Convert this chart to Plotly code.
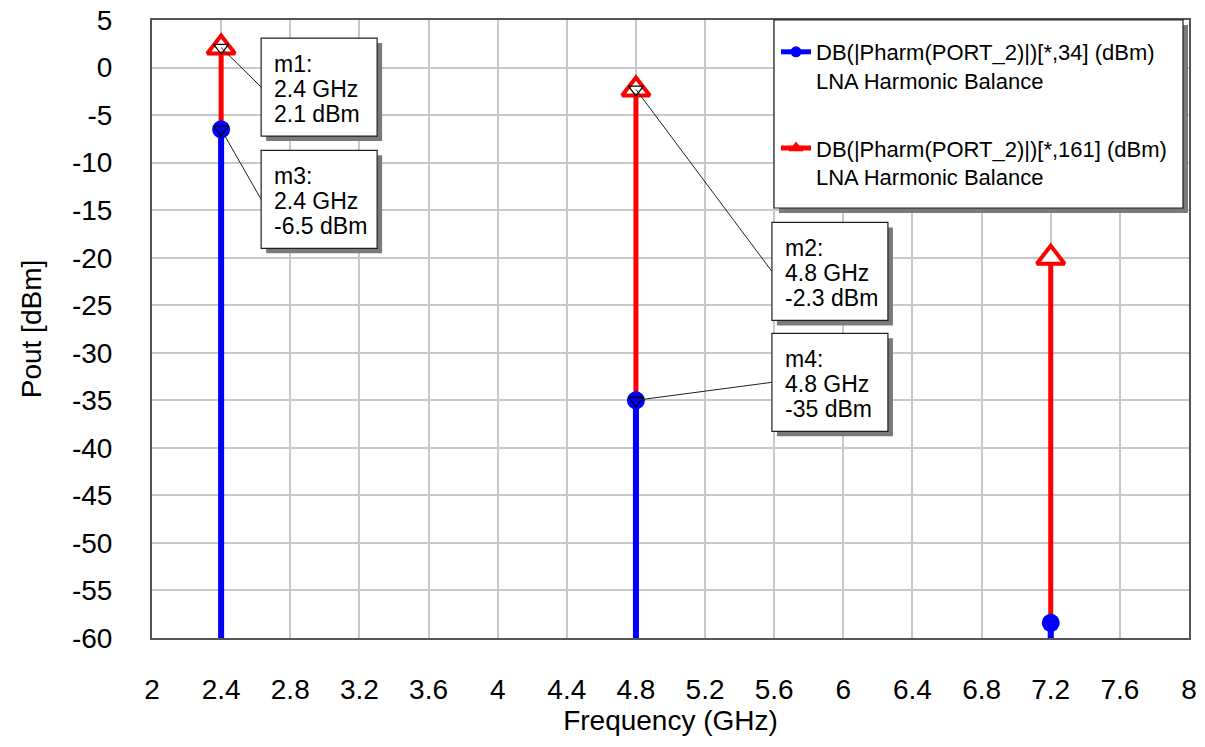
import plotly.graph_objects as go

# ---- data -------------------------------------------------------------
freq_ghz = [2.4, 4.8, 7.2]                 # harmonic frequencies (GHz)
pout_34 = [-6.5, -35.0, -58.4]             # DB(|Pharm(PORT_2)|)[*,34]  (dBm)
pout_161 = [2.1, -2.3, -20.0]              # DB(|Pharm(PORT_2)|)[*,161] (dBm)

x_ticks = [2, 2.4, 2.8, 3.2, 3.6, 4, 4.4, 4.8, 5.2, 5.6, 6, 6.4, 6.8, 7.2, 7.6, 8]
x_tick_labels = ["2", "2.4", "2.8", "3.2", "3.6", "4", "4.4", "4.8", "5.2",
                 "5.6", "6", "6.4", "6.8", "7.2", "7.6", "8"]
y_ticks = [5, 0, -5, -10, -15, -20, -25, -30, -35, -40, -45, -50, -55, -60]
y_tick_labels = ["5", "0", "-5", "-10", "-15", "-20", "-25", "-30", "-35",
                 "-40", "-45", "-50", "-55", "-60"]

name_34 = "DB(|Pharm(PORT_2)|)[*,34] (dBm)<br>LNA Harmonic Balance"
name_161 = "DB(|Pharm(PORT_2)|)[*,161] (dBm)<br>LNA Harmonic Balance"

# readout markers: label, trace, point index
marker_labels = ["m1", "m2", "m3", "m4"]
marker_trace = ["161", "161", "34", "34"]
marker_point = [0, 1, 0, 1]

# ---- styling / layout -------------------------------------------------
FONT = "Liberation Sans, Arial, sans-serif"
BLUE = "#0000ff"
RED = "#ff0000"
GRID = "#c8c8c8"
FRAME = "#555555"
SHADOW = "#7a7a7a"

W, H = 1205, 747
ML, MR, MT, MB = 152, 16, 20, 109
X_RANGE = [2, 8]
Y_RANGE = [-60, 5]

# readout box: offset of its top-left corner from the marked point (px, y up)
box_offset = {"m1": (40, 9.5), "m2": (136, -133), "m3": (40, -21), "m4": (136, 67)}
BOX_W, BOX_H, SHADOW_OFF = 116, 98, 5


def px_to_paper(px, py):
    return (px - ML) / (W - ML - MR), (H - MB - py) / (H - MT - MB)


def stems(xs, ys, base):
    sx, sy = [], []
    for x, y in zip(xs, ys):
        sx += [x, x, None]
        sy += [base, y, None]
    return sx, sy


series = {"161": pout_161, "34": pout_34}

fig = go.Figure()

sx, sy = stems(freq_ghz, pout_161, Y_RANGE[0])
fig.add_trace(go.Scatter(x=sx, y=sy, mode="lines", line=dict(color=RED, width=5),
                         showlegend=False, hoverinfo="skip"))
sx, sy = stems(freq_ghz, pout_34, Y_RANGE[0])
fig.add_trace(go.Scatter(x=sx, y=sy, mode="lines", line=dict(color=BLUE, width=6),
                         showlegend=False, hoverinfo="skip"))

fig.add_trace(go.Scatter(x=freq_ghz, y=pout_161, mode="markers", showlegend=False,
                         marker=dict(symbol="triangle-up", size=24, color="white",
                                     line=dict(color=RED, width=4))))
fig.add_trace(go.Scatter(x=freq_ghz, y=pout_34, mode="markers", showlegend=False,
                         marker=dict(symbol="circle", size=18, color=BLUE,
                                     line=dict(width=0))))

# small marker glyphs on the marked points
mx = [freq_ghz[i] for i in marker_point]
my = [series[t][i] for t, i in zip(marker_trace, marker_point)]
fig.add_trace(go.Scatter(x=mx, y=my, mode="markers", showlegend=False, hoverinfo="skip",
                         marker=dict(symbol="triangle-down-open", size=13, color="black",
                                     line=dict(color="black", width=1.2))))

# legend entries
fig.add_trace(go.Scatter(x=[None], y=[None], mode="lines+markers", name=name_34,
                         legendgroup="g34",
                         line=dict(color=BLUE, width=5),
                         marker=dict(symbol="circle", size=11, color=BLUE)))
fig.add_trace(go.Scatter(x=[None], y=[None], mode="lines+markers", name=name_161,
                         legendgroup="g161",
                         line=dict(color=RED, width=5),
                         marker=dict(symbol="triangle-up", size=13, color=RED)))

shapes = []
annotations = []

# readout boxes with shadow, leader line and text
for lab, t, i in zip(marker_labels, marker_trace, marker_point):
    fx = freq_ghz[i]
    val = series[t][i]
    dx, dy = box_offset[lab]
    common = dict(xref="x", yref="y", xsizemode="pixel", ysizemode="pixel",
                  xanchor=fx, yanchor=val, layer="above")
    shapes.append(dict(type="rect", x0=dx + SHADOW_OFF, x1=dx + BOX_W + SHADOW_OFF,
                       y0=dy - BOX_H - SHADOW_OFF, y1=dy - SHADOW_OFF,
                       fillcolor=SHADOW, line=dict(width=0), **common))
    shapes.append(dict(type="rect", x0=dx, x1=dx + BOX_W, y0=dy - BOX_H, y1=dy,
                       fillcolor="white", line=dict(color="#202020", width=1.2), **common))
    shapes.append(dict(type="line", x0=0, y0=0, x1=dx, y1=dy - BOX_H / 2,
                       line=dict(color="#202020", width=1), **common))
    lines = [f"{lab}:", f"{fx:g} GHz", f"{val:g} dBm"]
    for k, txt in enumerate(lines):
        annotations.append(dict(x=fx, y=val, xref="x", yref="y", text=txt,
                                showarrow=False, xanchor="left", yanchor="middle",
                                xshift=dx + 11, yshift=dy - 26 - 25 * k,
                                font=dict(family=FONT, size=23, color="black")))

# legend frame with shadow
lx0, ly0 = px_to_paper(774 + SHADOW_OFF, 208 + SHADOW_OFF)
lx1, ly1 = px_to_paper(1183 + SHADOW_OFF, 20 + SHADOW_OFF)
shapes.append(dict(type="rect", xref="paper", yref="paper", x0=lx0, x1=lx1, y0=ly0, y1=ly1,
                   fillcolor=SHADOW, line=dict(width=0), layer="above"))
lx0, ly0 = px_to_paper(774, 208)
lx1, ly1 = px_to_paper(1183, 20)
shapes.append(dict(type="rect", xref="paper", yref="paper", x0=lx0, x1=lx1, y0=ly0, y1=ly1,
                   fillcolor="white", line=dict(color="#202020", width=1.2), layer="above"))

leg_x, leg_y = px_to_paper(776, 31)

axis_common = dict(showgrid=True, gridcolor=GRID, gridwidth=1.5, zeroline=False,
                   showline=True, mirror=True, linecolor=FRAME, linewidth=2,
                   ticks="", tickfont=dict(family=FONT, size=28, color="black"),
                   title_font=dict(family=FONT, size=28, color="black"))

fig.update_layout(
    width=W, height=H,
    margin=dict(l=ML, r=MR, t=MT, b=MB, autoexpand=False),
    paper_bgcolor="white", plot_bgcolor="white",
    shapes=shapes, annotations=annotations,
    legend=dict(x=leg_x, y=leg_y, xanchor="left", yanchor="top",
                bgcolor="rgba(0,0,0,0)", borderwidth=0,
                font=dict(family=FONT, size=22, color="black"),
                traceorder="grouped", tracegroupgap=36, valign="top"),
    xaxis=dict(range=X_RANGE, tickvals=x_ticks, ticktext=x_tick_labels,
               ticklabelstandoff=25, title=dict(text="Frequency (GHz)", standoff=2),
               **axis_common),
    yaxis=dict(range=Y_RANGE, tickvals=y_ticks, ticktext=y_tick_labels,
               ticklabelstandoff=32, title=dict(text="Pout [dBm]", standoff=22),
               **axis_common),
)

fig.write_html("out.html")
